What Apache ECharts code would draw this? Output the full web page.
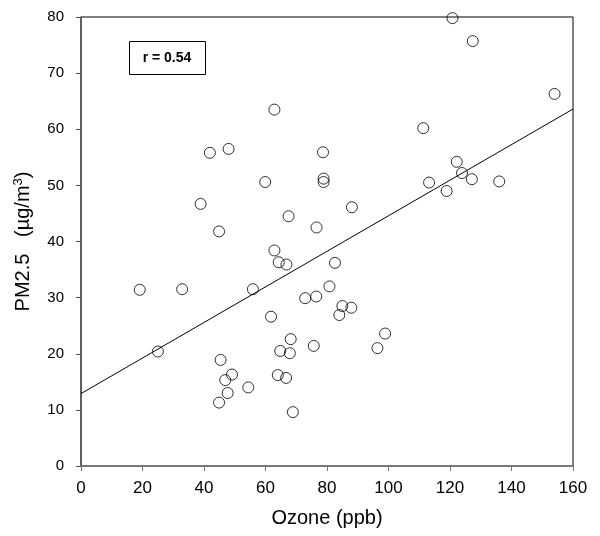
<!DOCTYPE html>
<html>
<head>
<meta charset="utf-8">
<script src="https://cdn.jsdelivr.net/npm/echarts@6/dist/echarts.min.js"></script>
<style>html,body{margin:0;padding:0;background:#fff}#c{width:600px;height:536px}</style>
</head>
<body>
<div id="c"></div>
<script>
var ozone = [62.9,41.9,48.0,59.9,38.9,67.5,44.9,
  120.8,127.4,154.0,111.3,78.7,78.9,78.9,88.1,76.6,122.2,123.9,127.1,113.2,118.9,136.0,
  62.9,64.3,66.8,19.1,32.9,55.9,61.8,25.0,68.2,64.8,67.9,45.4,46.9,49.1,64.0,66.7,54.4,47.7,44.9,68.9,
  82.6,80.8,72.9,76.5,85.0,87.9,84.0,98.9,75.7,96.4];
var pm25 = [63.5,55.8,56.5,50.6,46.7,44.5,41.8,
  79.8,75.7,66.3,60.2,55.9,51.2,50.6,46.1,42.5,54.2,52.2,51.1,50.5,49.0,50.7,
  38.4,36.3,35.9,31.4,31.5,31.5,26.6,20.4,22.6,20.5,20.1,18.9,15.3,16.3,16.2,15.7,14.0,13.0,11.3,9.6,
  36.2,32.0,29.9,30.2,28.5,28.2,26.9,23.6,21.4,21.0];
var fitX = [0, 160];
var fitY = [12.9, 63.6];
var xTicks = [0,20,40,60,80,100,120,140,160];
var yTicks = [0,10,20,30,40,50,60,70,80];
var rLabel = 'r = 0.54';

var pts = ozone.map(function(v,i){return [v, pm25[i]];});
var fit = fitX.map(function(v,i){return [v, fitY[i]];});
var font = 'Liberation Sans, Arial, sans-serif';

var chart = echarts.init(document.getElementById('c'));
chart.setOption({
  animation:false,
  backgroundColor:'#fff',
  grid:{left:81, right:27, top:17, bottom:70, show:true, borderColor:'#000', borderWidth:1},
  xAxis:{type:'value', min:xTicks[0], max:xTicks[xTicks.length-1], interval:20,
    name:'Ozone (ppb)', nameLocation:'middle', nameGap:42,
    nameTextStyle:{fontFamily:font, fontSize:20, color:'#000'},
    axisLine:{show:true, lineStyle:{color:'#777', width:1.5}},
    axisTick:{show:true, inside:false, length:5, lineStyle:{color:'#777'}},
    axisLabel:{fontFamily:font, fontSize:17, color:'#000', margin:14},
    splitLine:{show:false}},
  yAxis:{type:'value', min:yTicks[0], max:yTicks[yTicks.length-1], interval:10,
    name:'{a|PM2.5   (µg/m}{s|3}{a|)}', nameLocation:'middle', nameGap:46, nameRotate:90,
    nameTextStyle:{fontFamily:font, fontSize:20, color:'#000',
      rich:{a:{fontFamily:font, fontSize:20, color:'#000'},
            s:{fontFamily:font, fontSize:13, color:'#000', verticalAlign:'top', padding:[0,0,10,0]}}},
    axisLine:{show:true, lineStyle:{color:'#555', width:1.5}},
    axisTick:{show:true, inside:false, length:5, lineStyle:{color:'#555'}},
    axisLabel:{fontFamily:font, fontSize:15, color:'#000', margin:17},
    splitLine:{show:false}},
  series:[
    {type:'line', data:fit, symbol:'none', lineStyle:{color:'#000', width:1}, z:1, silent:true},
    {type:'scatter', data:pts, symbol:'circle', symbolSize:11,
      itemStyle:{color:'rgba(255,255,255,0)', borderColor:'#000', borderWidth:1}, z:2}
  ],
  graphic:[
    {type:'rect', left:129, top:41, shape:{width:76, height:33},
      style:{fill:'#fff', stroke:'#000', lineWidth:1}},
    {type:'text', x:167, y:58, style:{text:rLabel, font:'bold 14px '+font, fill:'#000', align:'center', verticalAlign:'middle'}}
  ]
});
</script>
</body>
</html>
